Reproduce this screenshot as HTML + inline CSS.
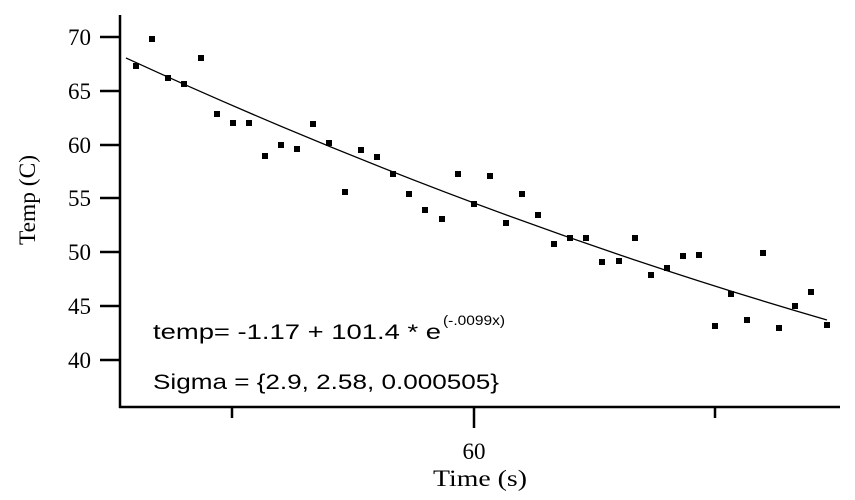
<!DOCTYPE html>
<html><head><style>body{margin:0;background:#fff}</style></head><body>
<svg width="855" height="495" xmlns="http://www.w3.org/2000/svg">
<g stroke="#000" stroke-width="2.5" fill="none">
<line x1="120" y1="15" x2="120" y2="408"/>
<line x1="119" y1="407" x2="840" y2="407"/>
<line x1="100" y1="37" x2="120" y2="37"/>
<line x1="100" y1="91" x2="120" y2="91"/>
<line x1="100" y1="145" x2="120" y2="145"/>
<line x1="100" y1="198" x2="120" y2="198"/>
<line x1="100" y1="252" x2="120" y2="252"/>
<line x1="100" y1="306" x2="120" y2="306"/>
<line x1="100" y1="360" x2="120" y2="360"/>
<line x1="232" y1="407" x2="232" y2="418"/>
<line x1="474" y1="407" x2="474" y2="428"/>
<line x1="715" y1="407" x2="715" y2="418"/>
</g>
<path d="M126,58 Q471.5,217 827,320" stroke="#000" stroke-width="1.3" fill="none"/>
<g fill="#000">
<rect x="133" y="63" width="6" height="6"/><rect x="149" y="36" width="6" height="6"/><rect x="165" y="75" width="6" height="6"/><rect x="181" y="81" width="6" height="6"/><rect x="198" y="55" width="6" height="6"/><rect x="214" y="111" width="6" height="6"/><rect x="230" y="120" width="6" height="6"/><rect x="246" y="120" width="6" height="6"/><rect x="262" y="153" width="6" height="6"/><rect x="278" y="142" width="6" height="6"/><rect x="294" y="146" width="6" height="6"/><rect x="310" y="121" width="6" height="6"/><rect x="326" y="140" width="6" height="6"/><rect x="342" y="189" width="6" height="6"/><rect x="358" y="147" width="6" height="6"/><rect x="374" y="154" width="6" height="6"/><rect x="390" y="171" width="6" height="6"/><rect x="406" y="191" width="6" height="6"/><rect x="422" y="207" width="6" height="6"/><rect x="439" y="216" width="6" height="6"/><rect x="455" y="171" width="6" height="6"/><rect x="471" y="201" width="6" height="6"/><rect x="487" y="173" width="6" height="6"/><rect x="503" y="220" width="6" height="6"/><rect x="519" y="191" width="6" height="6"/><rect x="535" y="212" width="6" height="6"/><rect x="551" y="241" width="6" height="6"/><rect x="567" y="235" width="6" height="6"/><rect x="583" y="235" width="6" height="6"/><rect x="599" y="259" width="6" height="6"/><rect x="616" y="258" width="6" height="6"/><rect x="632" y="235" width="6" height="6"/><rect x="648" y="272" width="6" height="6"/><rect x="664" y="265" width="6" height="6"/><rect x="680" y="253" width="6" height="6"/><rect x="696" y="252" width="6" height="6"/><rect x="712" y="323" width="6" height="6"/><rect x="728" y="291" width="6" height="6"/><rect x="744" y="317" width="6" height="6"/><rect x="760" y="250" width="6" height="6"/><rect x="776" y="325" width="6" height="6"/><rect x="792" y="303" width="6" height="6"/><rect x="808" y="289" width="6" height="6"/><rect x="824" y="322" width="6" height="6"/>
</g>
<g font-family="Liberation Serif, serif" font-size="23" fill="#000" text-anchor="end">
<text x="91" y="45">70</text><text x="91" y="99">65</text><text x="91" y="153">60</text><text x="91" y="206">55</text><text x="91" y="260">50</text><text x="91" y="314">45</text><text x="91" y="368">40</text>
</g>
<g font-family="Liberation Serif, serif" font-size="23" fill="#000" text-anchor="middle">
<text x="474" y="459">60</text>
<text x="480" y="486" textLength="94" lengthAdjust="spacingAndGlyphs">Time (s)</text>
<text transform="translate(35,200) rotate(-90)" textLength="90" lengthAdjust="spacingAndGlyphs">Temp (C)</text>
</g>
<g font-family="Liberation Sans, sans-serif" font-size="21" fill="#000">
<text x="153" y="339" textLength="288" lengthAdjust="spacingAndGlyphs">temp= -1.17 + 101.4 * e</text>
<text x="443" y="325" font-size="14" textLength="62" lengthAdjust="spacingAndGlyphs">(-.0099x)</text>
<text x="153" y="389" textLength="346" lengthAdjust="spacingAndGlyphs">Sigma = {2.9, 2.58, 0.000505}</text>
</g>
</svg>
</body></html>
